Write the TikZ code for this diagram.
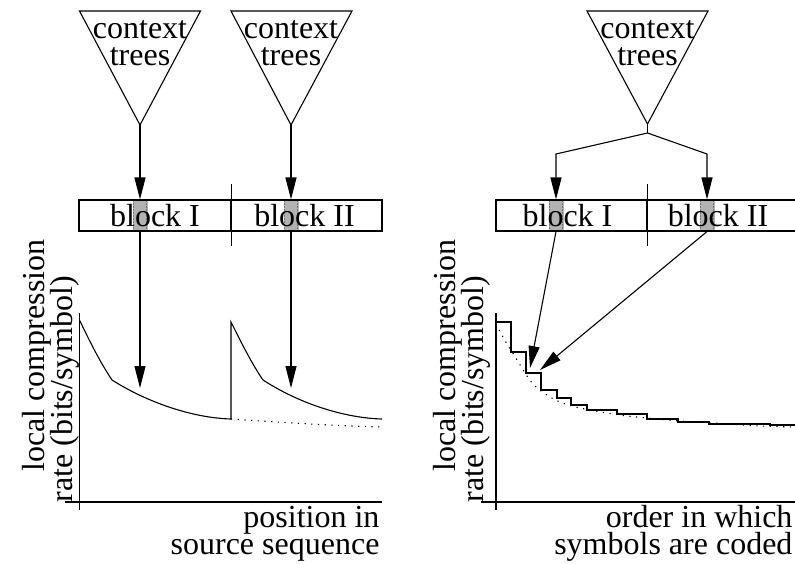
\documentclass[tikz,border=0pt]{standalone}
\usepackage{fontspec}
\setmainfont{Liberation Serif}
\usetikzlibrary{arrows.meta}
\begin{document}
\begin{tikzpicture}[x=1pt,y=-1pt,line width=1.1pt,
  lbl/.style={inner sep=0pt,font=\fontsize{32}{27}\selectfont},
  cell/.style={draw,minimum height=31pt,inner sep=0pt,font=\fontsize{32}{27}\selectfont},
  patch/.style={fill=black!30,draw=none,minimum width=15pt,minimum height=31pt,inner sep=0pt,
    path picture={\draw[line width=0.8pt,black!55,dash pattern=on 1.5pt off 1.5pt]
      ([xshift=1.2pt]path picture bounding box.north west) -- ([xshift=1.2pt]path picture bounding box.south west)
      ([xshift=-1.2pt]path picture bounding box.north east) -- ([xshift=-1.2pt]path picture bounding box.south east);}},
  arr/.style={-{Triangle[length=22pt,width=11pt]}},
  dots/.style={dash pattern=on 1.2pt off 5.5pt}]
\useasboundingbox (0,0) rectangle (795,563);

% context trees (inverted triangles)
\coordinate (t1apex) at (140,125);
\coordinate (t2apex) at (291,125);
\coordinate (t3apex) at (647.5,124);
\draw[line join=miter] (79.5,11) -- (200.5,11) -- (t1apex) -- cycle;
\draw[line join=miter] (231,11) -- (352,11) -- (t2apex) -- cycle;
\draw[line join=miter] (587,11) -- (708,11) -- (t3apex) -- cycle;
% (base anchor of a two-line node sits on its last line)
\node[lbl,align=center,anchor=base] (ctx1) at (140,65) {context\\trees};
\node[lbl,align=center,anchor=base] (ctx2) at (291,65) {context\\trees};
\node[lbl,align=center,anchor=base] (ctx3) at (647.5,65) {context\\trees};

% grey symbol positions inside the blocks
\node[patch] (g1) at (140,215.5) {};
\node[patch] (g2) at (291,215.5) {};
\node[patch] (g3) at (556,215.5) {};
\node[patch] (g4) at (707,215.5) {};

% the two blocks of each source sequence
\node[cell,minimum width=152pt] (b1) at (155,215.5) {block I};
\node[cell,minimum width=151pt] (b2) at (306.5,215.5) {\hspace*{-4pt}block II};
\node[cell,minimum width=151pt] (b3) at (571.5,215.5) {\hspace*{-8pt}block I};
\node[cell,minimum width=151pt] (b4) at (722.5,215.5) {\hspace*{-9pt}block II};
\draw ([yshift=15pt]b1.north east) -- ([yshift=-14pt]b1.south east);
\draw ([yshift=15pt]b3.north east) -- ([yshift=-14pt]b3.south east);

% left: one context tree per block
\draw[arr] (t1apex) -- (g1.north);
\draw[arr] (t2apex) -- (g2.north);

% right: a single context tree shared by both blocks
\coordinate (split) at (647.5,133);
\coordinate (k3) at (556,154);
\coordinate (k4) at (707,154);
\draw (t3apex) -- (split);
\draw[arr] (split) -- (k3) -- (g3.north);
\draw[arr] (split) -- (k4) -- (g4.north);

% left plot axes
\draw (79.5,313) -- (79.5,510);
\draw (65,502) -- (382,502);
% right plot axes
\draw (496,313) -- (496,510);
\draw (481,502) -- (800,502);

% left: compression rate restarts at each block
\draw (79.5,320) .. controls (90,342) and (100,362) .. (112,380)
      .. controls (150,404) and (195,418) .. (231,419) -- (231,322)
      .. controls (242,344) and (252,364) .. (263,380)
      .. controls (300,404) and (345,418) .. (382,419);
\draw[dots] (231,419) .. controls (290,423) and (340,426) .. (382,427);
\coordinate (c1) at (140,388);
\coordinate (c2) at (291,388);
\draw[arr] (g1.south) -- (c1);
\draw[arr] (g2.south) -- (c2);

% right: staircase for interleaved coding
\draw (496,322) -| (511,352) -| (526,373) -| (541,390) -| (557,398) -| (571,405)
      -| (587,410) -| (617,414) -| (647,419) -| (678,422) -| (709,424) -| (770,425) -- (800,425);
\draw[dots] plot[smooth,tension=0.6] coordinates {(499,330) (507,344) (514,355) (522,368) (533,384)
      (547,395) (560,402) (580,408) (620,415) (647,418) (680,421) (713,423) (760,426) (800,427)};
\coordinate (c3) at (530,368);
\coordinate (c4) at (540,370);
\draw[arr] (g3.south) -- (c3);
\draw[arr] (g4.south) -- (c4);

% axis labels
\node[lbl,rotate=90,anchor=base west] (yl1) at (44,472) {local compression};
\node[lbl,rotate=90,anchor=base west] (yl2) at (72,503) {rate (bits/symbol)};
\node[lbl,rotate=90,anchor=base west] (yr1) at (455,472) {local compression};
\node[lbl,rotate=90,anchor=base west] (yr2) at (483,503) {rate (bits/symbol)};
\node[lbl,align=right,anchor=base east] (xl) at (380,554) {position in\\source sequence};
\node[lbl,align=right,anchor=base east] (xr) at (793,554) {order in which\\symbols are coded};
\end{tikzpicture}
\end{document}
